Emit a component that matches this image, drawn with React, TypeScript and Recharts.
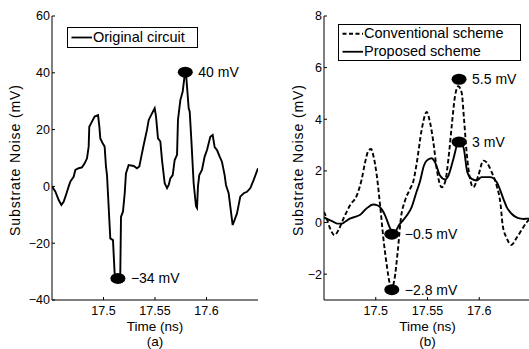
import { LineChart, Line, XAxis, YAxis, ReferenceDot, Legend, Label } from "recharts";

const FONT = "'Liberation Sans', Arial, Helvetica, sans-serif";

// (a) original circuit
const timeA = [
  17.45, 17.4532, 17.4565, 17.4591, 17.4613, 17.4636, 17.4662, 17.4678, 17.471, 17.4727,
  17.4759, 17.4791, 17.4817, 17.484, 17.4856, 17.4862, 17.4888, 17.4914, 17.4947, 17.496,
  17.4969, 17.4992, 17.5011, 17.5024, 17.5034, 17.5066, 17.5092, 17.5108, 17.5131, 17.515,
  17.5163, 17.517, 17.5189, 17.5206, 17.5218, 17.5244, 17.5293, 17.5325, 17.5348, 17.5367,
  17.539, 17.5422, 17.5439, 17.5471, 17.5497, 17.551, 17.5529, 17.5552, 17.5568, 17.5594,
  17.5617, 17.5633, 17.5649, 17.5672, 17.5691, 17.5714, 17.5723, 17.5746, 17.5769, 17.5788,
  17.5801, 17.5811, 17.5827, 17.5837, 17.5853, 17.5875, 17.5898, 17.5908, 17.5917, 17.593,
  17.5956, 17.5982, 17.6005, 17.6037, 17.606, 17.6079, 17.6102, 17.6128, 17.615, 17.6176,
  17.6189, 17.6215, 17.6231, 17.6254, 17.6273, 17.6296, 17.6328, 17.6361, 17.6393, 17.6426,
  17.6458, 17.65,
];
const noiseOriginal = [
  0, -1.8, -4.8, -6.5, -5.4, -3.0, 0, 1.7, 3.4, 5.8,
  6.4, 6.7, 8.1, 9.9, 14, 21, 22.8, 24.6, 25.1, 21,
  16.9, 15.2, 14, 7, 4, -18.3, -18.9, -30.6, -32.4, -32.4,
  -30.6, -10.7, -8.9, -2.4, 4.6, 7.5, 7.2, 6.4, 7, 10.5,
  14.6, 19.9, 23.4, 25.7, 27.5, 24.6, 16.9, 15.8, 9.3, 1.1,
  -0.6, 0.5, 2.8, 4, 9.3, 11.1, 23.4, 30.4, 33.4, 39.2,
  39.8, 35.1, 27.5, 26.3, 16.3, 1.2, -7, -7.6, 0, 4,
  5.8, 10.5, 12.8, 17.5, 18.1, 13.8, 12.8, 10.5, 8.7, 4,
  0.5, -2.4, -7, -13.6, -11.8, -9.5, -3.6, -2.4, -1.9, -0.6,
  2.3, 6.4,
];

// (b) conventional vs proposed
const timeConv = [
  17.45, 17.4527, 17.4559, 17.4601, 17.464, 17.4688, 17.4752, 17.4817, 17.4865, 17.4897,
  17.4929, 17.4955, 17.4977, 17.501, 17.5042, 17.5074, 17.5106, 17.5138, 17.5154, 17.518,
  17.5212, 17.5244, 17.5283, 17.5331, 17.5363, 17.5396, 17.5444, 17.5492, 17.5525, 17.5557,
  17.5589, 17.5637, 17.567, 17.5702, 17.5734, 17.5766, 17.5798, 17.583, 17.5853, 17.5878,
  17.5911, 17.5943, 17.5991, 17.604, 17.6071, 17.612, 17.6168, 17.6207, 17.6226, 17.6265,
  17.631, 17.636, 17.6408, 17.6457, 17.65,
];
const noiseConventional = [
  0.41, 0.15, -0.23, -0.49, -0.29, 0.15, 0.67, 1.05, 1.69, 2.33,
  2.78, 2.85, 2.59, 1.82, 0.67, -0.62, -1.64, -2.41, -2.54, -2.22,
  -1.13, 0.2, 0.85, 1.3, 1.6, 2.3, 3.6, 4.28, 3.87, 3.1,
  2.08, 1.37, 1.57, 2.46, 3.74, 4.9, 5.28, 5.03, 4.0, 2.72,
  1.69, 1.37, 1.82, 2.4, 2.33, 1.95, 1.43, 0.67, -0.1, -0.6,
  -0.87, -0.6, -0.3, 0.0, 0.2,
];
const timeProp = [
  17.45, 17.455, 17.459, 17.463, 17.467, 17.471, 17.475, 17.48, 17.485, 17.491,
  17.4975, 17.502, 17.506, 17.509, 17.5136, 17.5165, 17.5187, 17.5225, 17.5267, 17.5305,
  17.5347, 17.5395, 17.5428, 17.5465, 17.5492, 17.554, 17.5573, 17.5621, 17.567, 17.5702,
  17.575, 17.5798, 17.5847, 17.5885, 17.5927, 17.5975, 17.6023, 17.6104, 17.6168, 17.6233,
  17.6265, 17.631, 17.637, 17.643, 17.647, 17.65,
];
const noiseProposed = [
  0.2, 0.1, 0.03, -0.04, -0.04, 0.05, 0.15, 0.22, 0.3, 0.54,
  0.7, 0.66, 0.5, 0.28, -0.2, -0.4, -0.36, -0.1, 0.1, 0.3,
  0.6, 1.2, 1.6, 2.2, 2.4, 2.49, 2.33, 1.82, 1.67, 1.82,
  2.46, 3.1, 2.91, 1.95, 1.69, 1.63, 1.76, 1.76, 1.57, 0.92,
  0.6, 0.35, 0.18, 0.14, 0.15, 0.12,
];

const xTicks = [17.5, 17.55, 17.6];
const yTicksA = [-40, -20, 0, 20, 40, 60];
const yTicksB = [-2, 0, 2, 4, 6, 8];

// highlighted extremes
const markTimesA = [17.5794, 17.514];
const markValuesA = [40.2, -32.4];
const markLabelsA = ["40 mV", "−34 mV"];
const markTimesB = [17.5805, 17.5805, 17.5155, 17.5155];
const markValuesB = [5.55, 3.12, -0.45, -2.6];
const markLabelsB = ["5.5 mV", "3 mV", "−0.5 mV", "−2.8 mV"];

const toPoints = (ts: number[], vs: number[]) => ts.map((t, i) => ({ t, v: vs[i] }));
const fmt = (v: number) => String(v).replace("-", "−");

const Blob = (p: any) => <ellipse cx={p.cx} cy={p.cy} rx={7.5} ry={5.5} fill="#000" />;

type Series = { name: string; data: { t: number; v: number }[]; dashed?: boolean; smooth?: boolean };

function LegendBox({ items, width, rowHeight }: { items: Series[]; width: number; rowHeight: number }) {
  return (
    <div
      style={{
        border: "1px solid #000",
        background: "#fff",
        width,
        boxSizing: "border-box",
        fontFamily: FONT,
        fontSize: 14.5,
        color: "#000",
      }}
    >
      {items.map((it) => (
        <div key={it.name} style={{ display: "flex", alignItems: "center", height: rowHeight }}>
          <svg width={25} height={rowHeight} style={{ display: "block" }}>
            <line
              x1={3.5}
              x2={24}
              y1={rowHeight / 2}
              y2={rowHeight / 2}
              stroke="#000"
              strokeWidth={1.8}
              strokeDasharray={it.dashed ? "4 2.5" : undefined}
            />
          </svg>
          <span style={{ whiteSpace: "nowrap", lineHeight: `${rowHeight}px` }}>{it.name}</span>
        </div>
      ))}
    </div>
  );
}

function Panel(props: {
  width: number;
  yAxisWidth: number;
  marginRight: number;
  yDomain: [number, number];
  yTicks: number[];
  series: Series[];
  markTimes: number[];
  markValues: number[];
  markLabels: string[];
  legendLeft: number;
  legendTop: number;
  legendWidth: number;
  legendRow: number;
  caption: string;
  yLabelX: number;
}) {
  return (
    <LineChart
      width={props.width}
      height={349}
      margin={{ top: 16, right: props.marginRight, bottom: 0, left: 0 }}
      style={{ fontFamily: FONT }}
    >
      <XAxis
        type="number"
        dataKey="t"
        domain={[17.45, 17.65]}
        ticks={xTicks}
        interval={0}
        allowDataOverflow
        height={49}
        stroke="#000"
        tickSize={-3}
        tickMargin={9}
        tick={{ fill: "#000", fontSize: 12.5, fontFamily: FONT }}
      >
        <Label
          content={(p: any) => {
            const vb = p.viewBox || { x: 0, y: 0, width: 0 };
            return (
              <text
                x={vb.x + vb.width / 2}
                y={vb.y + 26}
                textAnchor="middle"
                dominantBaseline="central"
                fontSize={13.5}
                fontFamily={FONT}
                fill="#000"
              >
                Time (ns)
              </text>
            );
          }}
        />
        <Label
          content={(p: any) => {
            const vb = p.viewBox || { x: 0, y: 0, width: 0 };
            return (
              <text
                x={vb.x + vb.width / 2}
                y={vb.y + 41.5}
                textAnchor="middle"
                dominantBaseline="central"
                fontSize={13.5}
                fontFamily={FONT}
                fill="#000"
              >
                {props.caption}
              </text>
            );
          }}
        />
      </XAxis>
      <YAxis
        type="number"
        domain={props.yDomain}
        ticks={props.yTicks}
        interval={0}
        allowDataOverflow
        width={props.yAxisWidth}
        stroke="#000"
        tickSize={-3}
        tickMargin={5}
        tickFormatter={fmt}
        tick={{ fill: "#000", fontSize: 12.5, fontFamily: FONT }}
      >
        <Label
          content={(p: any) => {
            const vb = p.viewBox || { x: 0, y: 0, height: 0 };
            const cx = vb.x + props.yLabelX;
            const cy = vb.y + vb.height / 2 + 2;
            return (
              <text
                x={cx}
                y={cy}
                transform={`rotate(-90, ${cx}, ${cy})`}
                textAnchor="middle"
                dominantBaseline="central"
                fontSize={14}
                letterSpacing={0.9}
                fontFamily={FONT}
                fill="#000"
              >
                Substrate Noise (mV)
              </text>
            );
          }}
        />
      </YAxis>
      <Legend
        layout="horizontal"
        verticalAlign="middle"
        align="center"
        wrapperStyle={{ left: props.legendLeft, top: props.legendTop, width: "auto", height: "auto" }}
        content={() => <LegendBox items={props.series} width={props.legendWidth} rowHeight={props.legendRow} />}
      />
      {props.series.map((s) => (
        <Line
          key={s.name}
          name={s.name}
          data={s.data}
          dataKey="v"
          type={s.smooth ? "monotone" : "linear"}
          stroke="#000"
          strokeWidth={1.9}
          strokeDasharray={s.dashed ? "4.5 2.5" : undefined}
          dot={false}
          activeDot={false}
          isAnimationActive={false}
        />
      ))}
      {props.markTimes.map((t, i) => (
        <ReferenceDot
          key={i}
          x={t}
          y={props.markValues[i]}
          r={6}
          ifOverflow="visible"
          shape={Blob}
          label={{
            value: props.markLabels[i],
            position: "right",
            offset: 7,
            fill: "#000",
            fontSize: 14,
            fontFamily: FONT,
          }}
        />
      ))}
    </LineChart>
  );
}

export default function App() {
  const seriesA: Series[] = [{ name: "Original circuit", data: toPoints(timeA, noiseOriginal) }];
  const seriesB: Series[] = [
    { name: "Conventional scheme", data: toPoints(timeConv, noiseConventional), dashed: true, smooth: true },
    { name: "Proposed scheme", data: toPoints(timeProp, noiseProposed), smooth: true },
  ];
  return (
    <div
      style={{
        position: "absolute",
        left: 0,
        top: 0,
        width: 529,
        height: 349,
        overflow: "hidden",
        background: "#fff",
        fontFamily: FONT,
      }}
    >
      <div style={{ position: "absolute", left: 0, top: 0 }}>
        <Panel
          width={265}
          yAxisWidth={52}
          marginRight={7}
          yDomain={[-40, 60]}
          yTicks={yTicksA}
          series={seriesA}
          markTimes={markTimesA}
          markValues={markValuesA}
          markLabels={markLabelsA}
          legendLeft={67}
          legendTop={27}
          legendWidth={131}
          legendRow={19}
          caption="(a)"
          yLabelX={15}
        />
      </div>
      <div style={{ position: "absolute", left: 265, top: 0 }}>
        <Panel
          width={266}
          yAxisWidth={59}
          marginRight={0}
          yDomain={[-3, 8]}
          yTicks={yTicksB}
          series={seriesB}
          markTimes={markTimesB}
          markValues={markValuesB}
          markLabels={markLabelsB}
          legendLeft={73}
          legendTop={24}
          legendWidth={183}
          legendRow={17.5}
          caption="(b)"
          yLabelX={33}
        />
      </div>
    </div>
  );
}
